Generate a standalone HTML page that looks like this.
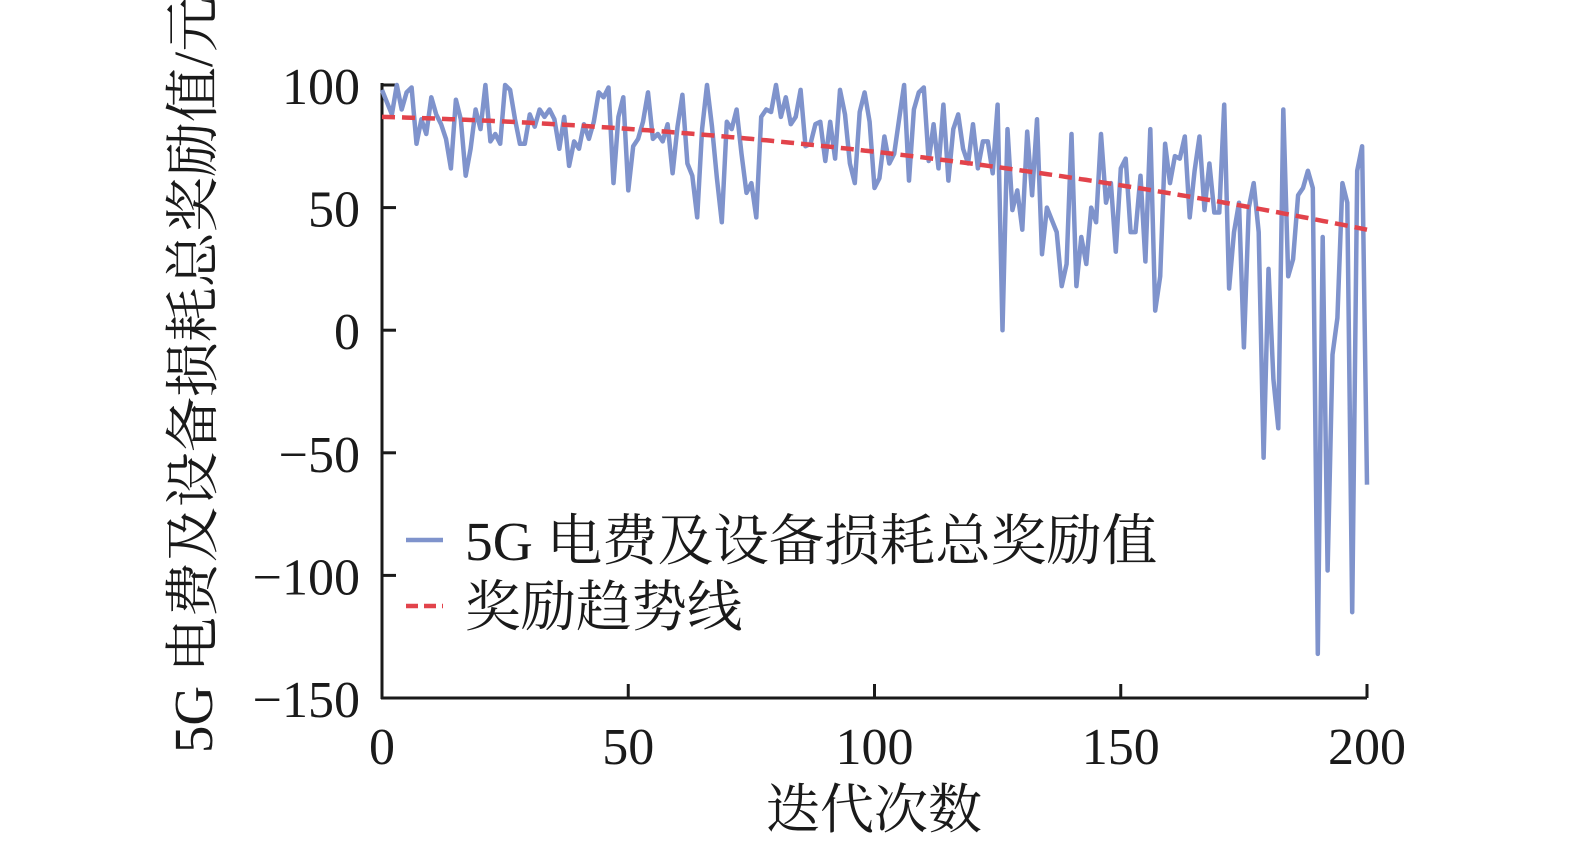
<!DOCTYPE html>
<html><head><meta charset="utf-8"><style>
html,body{margin:0;padding:0;background:#fff;overflow:hidden;width:1575px;height:848px;}
svg{display:block;}
svg text{font-family:"Liberation Serif","Noto Serif CJK SC",serif;fill:#1a1a1a;}
</style></head><body>
<svg id="chart" width="1575" height="848" viewBox="0 0 1575 848" xmlns="http://www.w3.org/2000/svg">
<g id="axes"></g>
<g id="marks"></g>
<text x="874" y="828" font-size="54" text-anchor="middle">迭代次数</text>
<text transform="translate(212,375) rotate(-90)" font-size="55" text-anchor="middle">5G 电费及设备损耗总奖励值/元</text>
<g>
<line x1="406" y1="540" x2="443" y2="540" stroke="#7f93cc" stroke-width="4.5"/>
<text x="465" y="560" font-size="55.5">5G 电费及设备损耗总奖励值</text>
<line x1="406" y1="606" x2="443" y2="606" stroke="#e2434b" stroke-width="4.5" stroke-dasharray="12,6"/>
<text x="465" y="626" font-size="55.5">奖励趋势线</text>
</g>
</svg>
<script>
const rewards = [98,93,88,100,90,97,99,76,86,80,95,
88,84,78,66,94,86,63,74,90,82,
100,77,80,76,100,98,86,76,76,88,
83,90,87,90,86,74,87,67,77,74,
84,78,85,97,95,99,60,87,95,57,
75,78,85,97,78,80,77,84,64,83,
96,68,63,46,82,100,83,62,44,85,
82,90,72,56,60,46,87,90,89,100,
87,95,84,87,98,75,76,84,85,69,
85,70,98,88,68,60,89,97,85,58,
62,79,68,72,86,100,61,90,97,99,
69,84,66,92,61,82,88,74,68,84,
66,77,77,64,92,0,82,49,57,41,
81,55,86,31,50,45,40,18,27,80,
18,38,27,50,44,80,52,60,32,66,
70,40,40,63,28,82,8,22,76,60,
71,70,79,46,65,79,49,68,48,48,
92,17,40,52,-7,50,60,40,-52,25,
-20,-40,90,22,29,55,58,65,58,-132,
38,-98,-10,5,60,52,-115,65,75,-63];
const trendCoef = [87,-0.054,-0.00088];
const xTicks = [0,50,100,150,200];
const yTicks = [100,50,0,-50,-100,-150];
const yTickLabels = ["100","50","0","\u221250","\u2212100","\u2212150"];

const NS="http://www.w3.org/2000/svg";
const X0=382,X1=1367,YT=85,YB=698;
const xs=v=>X0+(v/200)*(X1-X0);
const ys=v=>YB-((v+150)/250)*(YB-YT);
const axes=document.getElementById('axes'), marks=document.getElementById('marks');
function mk(tag,attrs,parent){const e=document.createElementNS(NS,tag);for(const k in attrs)e.setAttribute(k,attrs[k]);parent.appendChild(e);return e;}

let e=mk('line',{x1:X0,y1:YT-2,x2:X0,y2:YB+1,stroke:'#1a1a1a','stroke-width':3},axes);


e=mk('line',{x1:X0-1,y1:YB,x2:X1,y2:YB,stroke:'#1a1a1a','stroke-width':3},axes);


xTicks.forEach(t=>{
  const x=xs(t);
  let l=mk('line',{x1:x,y1:YB,x2:x,y2:YB-14,stroke:'#1a1a1a','stroke-width':3},axes);
  
  
  let tx=mk('text',{x:x,y:YB+66,'font-size':52,'text-anchor':'middle'},axes);tx.textContent=t;
  
  
});
yTicks.forEach((t,i)=>{
  const y=ys(t);
  let l=mk('line',{x1:X0,y1:y,x2:X0+14,y2:y,stroke:'#1a1a1a','stroke-width':3},axes);
  
  
  let tx=mk('text',{x:X0-22,y:y+19,'font-size':52,'text-anchor':'end'},axes);tx.textContent=yTickLabels[i];
  
  
});
let d=rewards.map((v,i)=>(i?'L':'M')+xs(i).toFixed(1)+','+ys(v).toFixed(1)).join(' ');
let p=mk('path',{d:d,fill:'none',stroke:'#7f93cc','stroke-width':4.5,'stroke-linejoin':'round'},marks);


let td='';for(let i=0;i<rewards.length;i++){const v=trendCoef[0]+trendCoef[1]*i+trendCoef[2]*i*i;td+=(i?'L':'M')+xs(i).toFixed(1)+','+ys(v).toFixed(1)+' ';}
let tp=mk('path',{d:td,fill:'none',stroke:'#e2434b','stroke-width':4.5,'stroke-dasharray':'13,7'},marks);


</script>
</body></html>
